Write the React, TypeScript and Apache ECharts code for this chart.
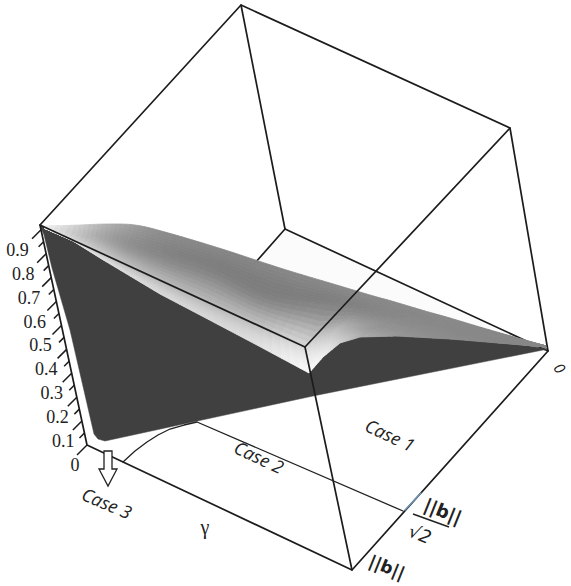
import React, { useEffect, useRef } from "react";
import * as echarts from "echarts";

type P = [number, number];

// Cube corners (page pixels)
const leftTop: P = [40, 225];
const top: P = [241, 5];
const rightTop: P = [510, 128];
const frontTop: P = [305, 347];
const leftBottom: P = [87, 445];
const frontBottom: P = [352, 570];
const rightBottom: P = [548, 351];
const backBottom: P = [285, 229];

const backEdges: P[][] = [
  [top, backBottom],
  [backBottom, rightBottom],
  [backBottom, [255, 263]],
];
const frontEdges: P[][] = [
  [leftTop, top, rightTop, rightBottom, frontBottom, leftBottom, leftTop],
  [leftTop, frontTop, rightTop],
  [frontTop, frontBottom],
];

// Case boundaries on the floor
const caseCurve: P[] = [[123, 462], [135, 451], [147, 442], [158, 435], [170, 429], [184, 425], [197, 422], [403, 511]];
const caseDiagonal: P[] = [[405, 510], [421, 493]];
const arrow: P[] = [[104, 451], [112, 451], [112, 469], [117, 469], [108, 486], [99, 469], [104, 469], [104, 451]];

// Silhouette of the dark underside of the surface
const underside: P[] = [
  [40, 225], [73, 241], [100, 258], [125, 273], [160, 294], [200, 315], [255, 344], [309, 373], [323, 357], [340, 343], [360, 337], [397, 336],
  [450, 339], [510, 343], [548, 349], [313, 396], [105, 441], [98, 439], [94, 434], [70, 330], [52, 268], [44, 235],
];
const wallPatch: P[] = [[285, 229], [548, 351], [257, 261]];

// Lit surface: rows from the lower rim to the upper rim, one value per column
const rimLower: P[] = [[44, 228], [73, 241], [100, 258], [125, 273], [160, 294], [200, 315], [255, 344], [309, 373], [323, 357], [340, 343], [360, 337], [397, 336], [450, 339], [546, 347]];
const rimRidge: P[] = [[44, 228], [73, 240], [100, 252], [125, 264], [160, 280], [200, 299], [255, 324], [305, 347], [335, 330], [352, 328], [375, 328], [420, 331], [470, 335], [546, 347]];
const rimMiddle: P[] = [[46, 226], [78, 234], [105, 238], [128, 245], [163, 255], [215, 270], [268, 295], [330, 305], [360, 310], [380, 315], [410, 318], [440, 325], [480, 332], [546, 346]];
const rimUpper: P[] = [[50, 226], [80, 225], [107, 224], [135, 225], [165, 232], [222, 249], [280, 268], [340, 286], [370, 295], [395, 302], [425, 311], [450, 318], [490, 330], [546, 346]];
const rimRows = [rimLower, rimRidge, rimMiddle, rimUpper];

const grayLower = [240, 228, 225, 220, 218, 216, 224, 248, 240, 208, 176, 152, 140, 136];
const grayRidge = [240, 216, 200, 190, 184, 184, 192, 214, 192, 172, 152, 142, 136, 136];
const grayMiddle = [240, 196, 164, 146, 134, 128, 128, 132, 134, 136, 136, 136, 136, 136];
const grayUpper = [238, 204, 176, 156, 140, 134, 134, 136, 136, 136, 136, 136, 136, 136];
const grayRows = [grayLower, grayRidge, grayMiddle, grayUpper];

// Height axis
const heightTicks = [0, 0.05, 0.1, 0.15, 0.2, 0.25, 0.3, 0.35, 0.4, 0.45, 0.5, 0.55, 0.6, 0.65, 0.7, 0.75, 0.8, 0.85, 0.9];
const heightLabels = ["0", "0.1", "0.2", "0.3", "0.4", "0.5", "0.6", "0.7", "0.8", "0.9"];
const heightAxisTop = 0.92;

const LINE = "#1c1c1c";
const DARK = "#404040";
const SERIF = "Liberation Serif";

function catmull(a: number, b: number, c: number, d: number, t: number) {
  return 0.5 * (2 * b + (c - a) * t + (2 * a - 5 * b + 4 * c - d) * t * t + (3 * b - a - 3 * c + d) * t * t * t);
}

function buildCells() {
  const cells: { pts: P[]; gray: number }[] = [];
  const subU = 6;
  const subV = 8;
  const cols = rimRows[0].length;
  const rows = rimRows.length;
  const clampI = (i: number, n: number) => Math.max(0, Math.min(n - 1, i));
  const lerp = (a: number, b: number, t: number) => a + (b - a) * t;
  const rowPoint = (r: number, c: number, u: number): P => {
    const row = rimRows[r];
    if (r < 2) {
      return [lerp(row[c][0], row[c + 1][0], u), lerp(row[c][1], row[c + 1][1], u)];
    }
    const s = [row[clampI(c - 1, cols)], row[c], row[c + 1], row[clampI(c + 2, cols)]];
    return [catmull(s[0][0], s[1][0], s[2][0], s[3][0], u), catmull(s[0][1], s[1][1], s[2][1], s[3][1], u)];
  };
  const rowGray = (r: number, c: number, u: number) => {
    const g = grayRows[r];
    return catmull(g[clampI(c - 1, cols)], g[c], g[c + 1], g[clampI(c + 2, cols)], u);
  };
  const pos = (r: number, c: number, u: number, v: number): P => {
    const a = rowPoint(r, c, u), b = rowPoint(r + 1, c, u);
    return [lerp(a[0], b[0], v), lerp(a[1], b[1], v)];
  };
  const shade = (r: number, c: number, u: number, v: number) => {
    const val = catmull(
      rowGray(clampI(r - 1, rows), c, u),
      rowGray(r, c, u),
      rowGray(r + 1, c, u),
      rowGray(clampI(r + 2, rows), c, u),
      v,
    );
    return Math.round(Math.max(120, Math.min(250, val)));
  };
  for (let r = 0; r < rows - 1; r++) {
    for (let c = 0; c < cols - 1; c++) {
      for (let i = 0; i < subU; i++) {
        for (let j = 0; j < subV; j++) {
          const u0 = i / subU, u1 = (i + 1) / subU, v0 = j / subV, v1 = (j + 1) / subV;
          cells.push({
            pts: [pos(r, c, u0, v0), pos(r, c, u1, v0), pos(r, c, u1, v1), pos(r, c, u0, v1)],
            gray: shade(r, c, (u0 + u1) / 2, (v0 + v1) / 2),
          });
        }
      }
    }
  }
  return cells;
}

function lineSeries(data: P[], color: string, width: number, z: number) {
  return {
    type: "line",
    data,
    showSymbol: false,
    silent: true,
    clip: false,
    z,
    lineStyle: { color, width, cap: "round", join: "round" },
  };
}

function polygonSeries(pts: P[], fill: string, z: number, stroke = "none", lineWidth = 0) {
  return {
    type: "custom",
    data: [0],
    silent: true,
    clip: false,
    z,
    renderItem: (_p: any, api: any) => ({
      type: "polygon",
      shape: { points: pts.map((q) => api.coord(q)) },
      style: { fill, stroke, lineWidth },
    }),
  };
}

const deg = (a: number) => (a * Math.PI) / 180;

function label(text: string, x: number, y: number, angle: number, font: string, size: number, extra: any = {}) {
  const weight = extra.fontWeight ? `${extra.fontWeight} ` : "";
  const slant = extra.fontStyle ? `${extra.fontStyle} ` : "";
  return {
    type: "text",
    x,
    y,
    rotation: deg(angle),
    z: 50,
    style: {
      text,
      x: 0,
      y: 0,
      fill: "#222",
      font: `${slant}${weight}${size}px "${font}"`,
      align: "center",
      verticalAlign: "middle",
    },
  };
}

export default function App() {
  const ref = useRef<HTMLDivElement>(null);
  useEffect(() => {
    const chart = echarts.init(ref.current!, undefined, { renderer: "svg" });
    const cells = buildCells();
    const axisAt = (h: number): P => [
      leftBottom[0] + (h / heightAxisTop) * (leftTop[0] - leftBottom[0]),
      leftBottom[1] + (h / heightAxisTop) * (leftTop[1] - leftBottom[1]),
    ];
    chart.setOption({
      animation: false,
      backgroundColor: "#ffffff",
      grid: { left: 0, top: 0, right: 0, bottom: 0 },
      xAxis: { type: "value", min: 0, max: 571, show: false },
      yAxis: { type: "value", min: 0, max: 586, inverse: true, show: false },
      series: [
        polygonSeries(wallPatch, "#fbfbfb", 1),
        ...backEdges.map((e) => lineSeries(e, LINE, 1.7, 2)),
        polygonSeries(underside, DARK, 3, DARK, 0.5),
        {
          type: "custom",
          data: cells.map((_, i) => i),
          silent: true,
          clip: false,
          z: 4,
          renderItem: (p: any, api: any) => {
            const c = cells[p.dataIndex];
            const fill = `rgb(${c.gray},${c.gray},${c.gray})`;
            return {
              type: "polygon",
              shape: { points: c.pts.map((q) => api.coord(q)) },
              style: { fill, stroke: fill, lineWidth: 0.8 },
            };
          },
        },
        ...frontEdges.map((e) => lineSeries(e, LINE, 1.7, 6)),
        lineSeries(caseCurve, "#222", 1.3, 6),
        lineSeries(caseDiagonal, "#6f97bd", 1.5, 7),
        polygonSeries(arrow, "#ffffff", 8, "#222", 1.3),
        {
          type: "custom",
          data: heightTicks,
          silent: true,
          clip: false,
          z: 7,
          renderItem: (p: any, api: any) => {
            const h = heightTicks[p.dataIndex];
            const major = p.dataIndex % 2 === 0;
            const [ax, ay] = axisAt(h);
            const len = h === 0 ? 10 : major ? 9 : 5;
            const a = api.coord([ax, ay]);
            const b = api.coord([ax - len, ay + len]);
            return {
              type: "line",
              shape: { x1: a[0], y1: a[1], x2: b[0], y2: b[1] },
              style: { stroke: LINE, lineWidth: 1.5 },
            };
          },
        },
      ],
      graphic: [
        ...heightLabels.map((t, i) => {
          const [ax, ay] = axisAt(i / 10);
          return label(t, ax - (i === 0 ? 12 : 18 + i * 0.6), ay + 20, 0, SERIF, 18);
        }),
        label("Case 1", 390, 435, -25, "Open Sans", 18, { fontStyle: "italic" }),
        label("Case 2", 259, 457, -25, "Open Sans", 18, { fontStyle: "italic" }),
        label("Case 3", 107, 503, -23, "Open Sans", 18, { fontStyle: "italic" }),
        label("γ", 205, 527, 0, SERIF, 20),
        label("0", 560, 368, -55, "Open Sans", 15, { fontStyle: "italic" }),
        label("||b||", 443, 511, -22, "DejaVu Sans", 18, { fontWeight: "bold" }),
        label("√2", 420, 534, -22, "DejaVu Sans", 18, { fontStyle: "italic" }),
        label("||b||", 387, 567, -22, "DejaVu Sans", 17, { fontWeight: "bold" }),
        {
          type: "line",
          z: 50,
          shape: { x1: 413, y1: 514, x2: 449, y2: 527 },
          style: { stroke: "#222", lineWidth: 1.5 },
        },
      ],
    });
    return () => chart.dispose();
  }, []);
  return <div ref={ref} style={{ position: "fixed", left: 0, top: 0, width: 571, height: 586 }} />;
}
